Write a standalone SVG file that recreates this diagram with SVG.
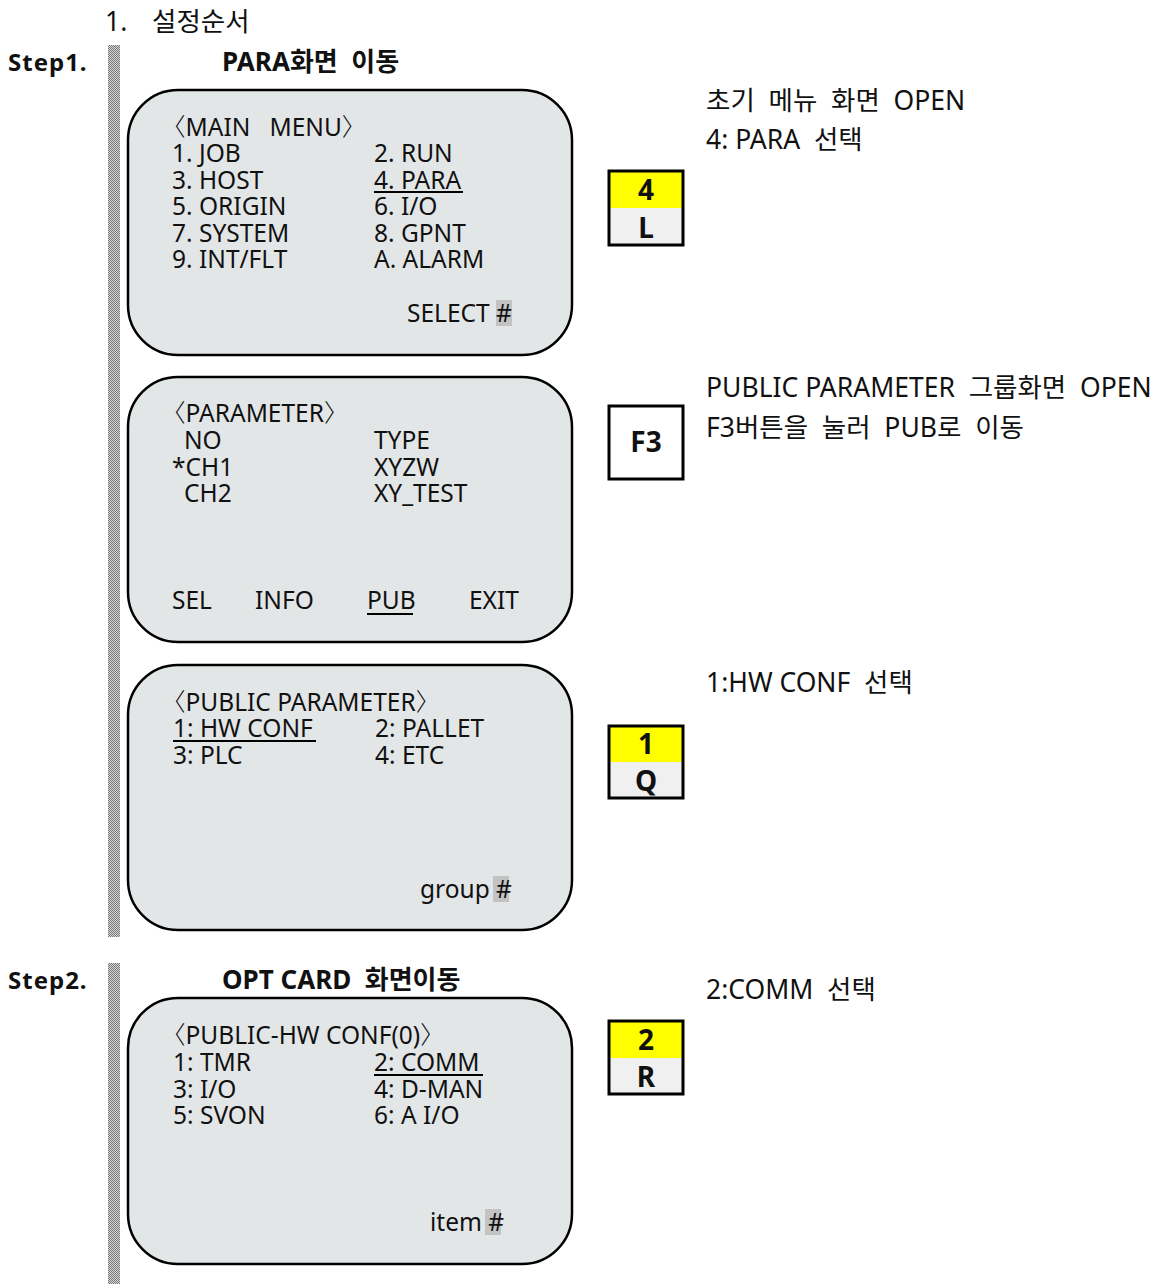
<svg xmlns="http://www.w3.org/2000/svg" width="1160" height="1284" viewBox="0 0 1160 1284">
<defs>
<pattern id="chk" width="2" height="2" patternUnits="userSpaceOnUse">
<rect width="2" height="2" fill="#d4d4d4"/>
<rect width="1" height="1" fill="#7a7a7a"/>
<rect x="1" y="1" width="1" height="1" fill="#7a7a7a"/>
</pattern>
<style>
text{font-family:"Noto Sans","Noto Sans CJK KR",sans-serif;fill:#111;}
.t{font-size:24.5px;font-weight:400;}
.h{font-size:26.5px;font-weight:400;}
.b{font-size:24px;font-weight:700;}
.bh{font-size:26px;font-weight:700;}
.k{font-size:28px;font-weight:700;text-anchor:middle;}
.br{font-family:"Noto Sans CJK KR",sans-serif;font-weight:300;}
.panel{fill:#e3e6e7;stroke:#000;stroke-width:2.5;}
.key{fill:none;stroke:#000;stroke-width:3;}
.hash{fill:#c3c3c3;}
.ul{stroke:#000;stroke-width:2;}
.bar{fill:url(#chk);}
</style>
</defs>
<rect width="1160" height="1284" fill="#fff"/>
<text class="h" x="105" y="31">1.<tspan x="152">설정순서</tspan></text>
<text class="b" x="8" y="71" letter-spacing="1">Step1.</text>
<text class="bh" x="222" y="71" xml:space="preserve">PARA화면  이동</text>
<text class="b" x="8" y="989" letter-spacing="1">Step2.</text>
<text class="bh" x="222" y="989" xml:space="preserve">OPT CARD  화면이동</text>
<rect class="bar" x="108" y="45" width="12" height="892"/>
<rect class="bar" x="108" y="963" width="12" height="321"/>

<g id="panel-main-menu">
<rect class="panel" x="128" y="90" width="444" height="265" rx="50"/>
<text class="t" x="172" y="136" xml:space="preserve"><tspan class="br" dx="-11">〈</tspan>MAIN   MENU<tspan class="br">〉</tspan></text>
<text class="t" x="172" y="162">1. JOB</text>
<text class="t" x="172" y="189">3. HOST</text>
<text class="t" x="172" y="215">5. ORIGIN</text>
<text class="t" x="172" y="242">7. SYSTEM</text>
<text class="t" x="172" y="268">9. INT/FLT</text>
<text class="t" x="374" y="162">2. RUN</text>
<text class="t" x="374" y="189">4. PARA</text>
<line class="ul" x1="374" y1="192" x2="463" y2="192"/>
<text class="t" x="374" y="215">6. I/O</text>
<text class="t" x="374" y="242">8. GPNT</text>
<text class="t" x="374" y="268">A. ALARM</text>
<rect class="hash" x="496" y="300" width="16" height="26"/>
<text class="t" x="407" y="322">SELECT #</text>
</g>

<g id="panel-parameter">
<rect class="panel" x="128" y="377" width="444" height="265" rx="50"/>
<text class="t" x="172" y="422"><tspan class="br" dx="-11">〈</tspan>PARAMETER<tspan class="br">〉</tspan></text>
<text class="t" x="184" y="449">NO</text>
<text class="t" x="172" y="476">*CH1</text>
<text class="t" x="184" y="502">CH2</text>
<text class="t" x="374" y="449">TYPE</text>
<text class="t" x="374" y="476">XYZW</text>
<text class="t" x="374" y="502">XY_TEST</text>
<text class="t" x="172" y="609">SEL</text>
<text class="t" x="255" y="609">INFO</text>
<text class="t" x="367" y="609">PUB</text>
<line class="ul" x1="367" y1="614" x2="413" y2="614"/>
<text class="t" x="469" y="609">EXIT</text>
</g>

<g id="panel-public-parameter">
<rect class="panel" x="128" y="665" width="444" height="265" rx="50"/>
<text class="t" x="172" y="711"><tspan class="br" dx="-11">〈</tspan>PUBLIC PARAMETER<tspan class="br">〉</tspan></text>
<text class="t" x="173" y="737">1: HW CONF</text>
<line class="ul" x1="173" y1="741" x2="316" y2="741"/>
<text class="t" x="173" y="764">3: PLC</text>
<text class="t" x="375" y="737">2: PALLET</text>
<text class="t" x="375" y="764">4: ETC</text>
<rect class="hash" x="493" y="876" width="16" height="26"/>
<text class="t" x="420" y="898">group #</text>
</g>

<g id="panel-hw-conf">
<rect class="panel" x="128" y="998" width="444" height="266" rx="50"/>
<text class="t" x="172" y="1044"><tspan class="br" dx="-11">〈</tspan>PUBLIC-HW CONF(0)<tspan class="br">〉</tspan></text>
<text class="t" x="173" y="1071">1: TMR</text>
<text class="t" x="173" y="1098">3: I/O</text>
<text class="t" x="173" y="1124">5: SVON</text>
<text class="t" x="374" y="1071">2: COMM</text>
<line class="ul" x1="374" y1="1075" x2="483" y2="1075"/>
<text class="t" x="374" y="1098">4: D-MAN</text>
<text class="t" x="374" y="1124">6: A I/O</text>
<rect class="hash" x="485" y="1209" width="16" height="26"/>
<text class="t" x="430" y="1231">item #</text>
</g>

<g id="key-4-L">
<rect x="609" y="171" width="74" height="37" fill="#ffff00"/>
<rect x="609" y="208" width="74" height="37" fill="#f0f0f0"/>
<rect class="key" x="609" y="171" width="74" height="74"/>
<text class="k" x="646" y="200">4</text>
<text class="k" x="646" y="238">L</text>
</g>
<g id="key-F3">
<rect class="key" x="609" y="406" width="74" height="73" fill="#fff"/>
<text class="k" x="646" y="452">F3</text>
</g>
<g id="key-1-Q">
<rect x="609" y="726" width="74" height="36" fill="#ffff00"/>
<rect x="609" y="762" width="74" height="36" fill="#f0f0f0"/>
<rect class="key" x="609" y="726" width="74" height="72"/>
<text class="k" x="646" y="754">1</text>
<text class="k" x="646" y="791">Q</text>
</g>
<g id="key-2-R">
<rect x="609" y="1021" width="74" height="37" fill="#ffff00"/>
<rect x="609" y="1058" width="74" height="36" fill="#f0f0f0"/>
<rect class="key" x="609" y="1021" width="74" height="73"/>
<text class="k" x="646" y="1050">2</text>
<text class="k" x="646" y="1087">R</text>
</g>

<g id="notes">
<text class="h" x="706" y="110" xml:space="preserve">초기  메뉴  화면  OPEN</text>
<text class="h" x="706" y="149" xml:space="preserve">4: PARA  선택</text>
<text class="h" x="706" y="397" xml:space="preserve">PUBLIC PARAMETER  그룹화면  OPEN</text>
<text class="h" x="706" y="437" xml:space="preserve">F3버튼을  눌러  PUB로  이동</text>
<text class="h" x="706" y="692" xml:space="preserve">1:HW CONF  선택</text>
<text class="h" x="706" y="999" xml:space="preserve">2:COMM  선택</text>
</g>
</svg>
